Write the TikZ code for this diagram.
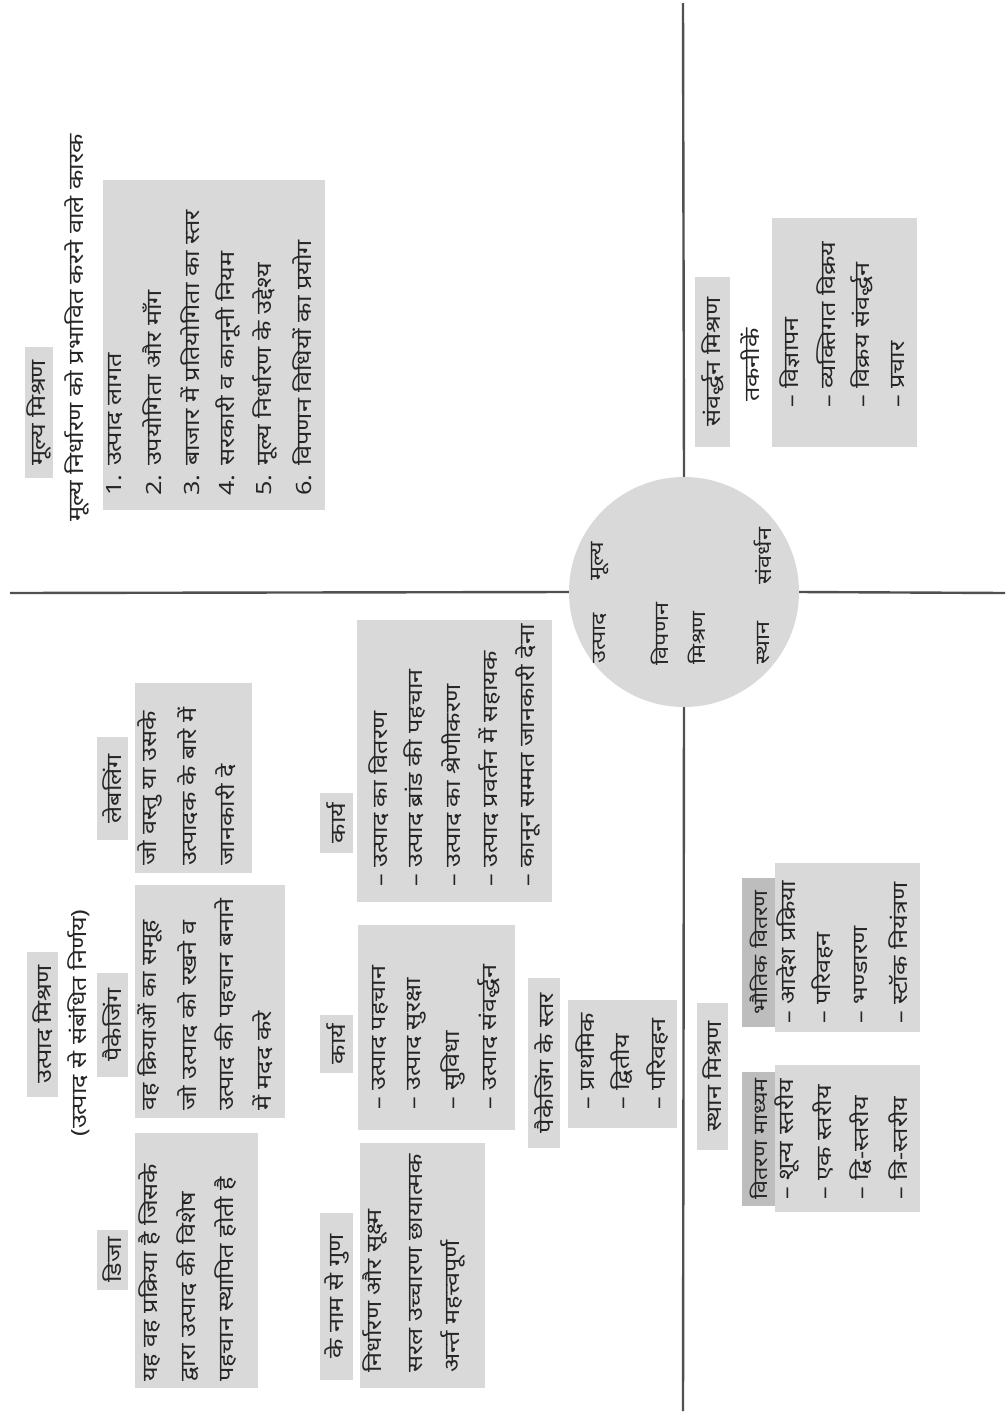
\documentclass[tikz,border=0pt]{standalone}
\usepackage{fontspec}
\newfontfamily\hindi[Script=Devanagari, FakeStretch=1.2]{Noto Sans}
\definecolor{boxgray}{HTML}{D9D9D9}
\definecolor{hdrgray}{HTML}{BDBDBD}
\definecolor{linegray}{HTML}{505050}
\definecolor{ink}{HTML}{262626}

\tikzset{
  txt/.style={rotate=90, inner sep=0pt, font=\hindi\fontsize{21}{24}\selectfont, text=ink},
  smalltxt/.style={font=\hindi\fontsize{19.5}{23}\selectfont},
  ctxt/.style={txt, font=\hindi\fontsize{19.5}{23}\selectfont},
  item/.style={txt, anchor=west},
  panel/.style={fill=boxgray, draw=none},
  divider/.style={draw=linegray, line width=2.4pt},
}

% tag box: [extra style] name, x1, y1, x2, y2, text  (text runs bottom to top)
\newcommand\tagbox[7][fill=boxgray]{%
  \node[txt, #1, minimum width={#6-#4}, minimum height={#5-#3}]
    (#2) at ({(#3+#5)/2},{(#4+#6)/2}) {#7};}

\begin{document}
\begin{tikzpicture}[x=1pt,y=-1pt]
\useasboundingbox[fill=white] (0,0) rectangle (1005,1414);

% ---------- centre circle and quadrant dividers ----------
\node[circle, fill=boxgray, minimum size=230, inner sep=0] (mix) at (684,592) {};
\coordinate (topend) at (683,3);
\coordinate (botend) at (683,1411);
\coordinate (leftend) at (10,593);
\coordinate (rightend) at (1005,593);
\draw[divider] (topend) -- (mix.north);
\draw[divider] (mix.south) -- (botend);
\draw[divider] (leftend) -- (mix.west);
\draw[divider] (mix.east) -- (rightend);

\node[ctxt] (c-utp) at (600,638) {उत्पाद};
\node[ctxt] (c-mul) at (600,561) {मूल्य};
\node[ctxt] (c-vip) at (660,634) {विपणन};
\node[ctxt] (c-mis) at (697,638) {मिश्रण};
\node[ctxt] (c-sth) at (763,643) {स्थान};
\node[ctxt] (c-sam) at (763,556) {संवर्धन};

% ---------- price mix ----------
\tagbox{price}{25}{347}{53}{478}{मूल्य मिश्रण}
\node[txt] (price-sub) at (77,328) {मूल्य निर्धारण को प्रभावित करने वाले कारक};
\path[panel] (103,180) rectangle (325,510);
\foreach \x/\t [count=\i] in {
  115/{1. उत्पाद लागत},
  152/{2. उपयोगिता और माँग},
  190/{3. बाजार में प्रतियोगिता का स्तर},
  228/{4. सरकारी व कानूनी नियम},
  265/{5. मूल्य निर्धारण के उद्देश्य},
  302/{6. विपणन विधियों का प्रयोग}}
  \node[item] (price-\i) at (\x,496) {\t};

% ---------- promotion mix ----------
\tagbox{promo}{695}{277}{730}{447}{संवर्द्धन मिश्रण}
\node[txt] (promo-sub) at (750,365) {तकनीकें};
\path[panel] (772,218) rectangle (917,447);
\foreach \x/\t [count=\i] in {
  790/{– विज्ञापन},
  826/{– व्यक्तिगत विक्रय},
  862/{– विक्रय संवर्द्धन},
  898/{– प्रचार}}
  \node[item] (promo-\i) at (\x,408) {\t};

% ---------- place mix ----------
\tagbox{place}{697}{1003}{728}{1150}{स्थान मिश्रण}
\path[panel] (775,1065) rectangle (920,1212);
\tagbox[fill=hdrgray, smalltxt]{channel}{742}{1072}{775}{1206}{वितरण माध्यम}
\foreach \x/\t [count=\i] in {
  787/{– शून्य स्तरीय},
  823/{– एक स्तरीय},
  861/{– द्वि-स्तरीय},
  898/{– त्रि-स्तरीय}}
  \node[item] (channel-\i) at (\x,1200) {\t};
\path[panel] (775,863) rectangle (920,1032);
\tagbox[fill=hdrgray, smalltxt]{physical}{742}{878}{775}{1027}{भौतिक वितरण}
\foreach \x/\t [count=\i] in {
  787/{– आदेश प्रक्रिया},
  823/{– परिवहन},
  861/{– भण्डारण},
  898/{– स्टॉक नियंत्रण}}
  \node[item] (physical-\i) at (\x,1024) {\t};

% ---------- product mix ----------
\tagbox{product}{27}{952}{58}{1097}{उत्पाद मिश्रण}
\node[txt] (product-sub) at (79,1023) {(उत्पाद से संबंधित निर्णय)};

% design
\tagbox{design}{97}{1230}{128}{1290}{डिजा}
\path[panel] (135,1133) rectangle (258,1388);
\foreach \x/\t [count=\i] in {
  150/{यह वह प्रक्रिया है जिसके},
  188/{द्वारा उत्पाद की विशेष},
  226/{पहचान स्थापित होती है}}
  \node[item] (design-\i) at (\x,1382) {\t};

% packaging
\tagbox{pack}{97}{973}{128}{1077}{पैकेजिंग}
\path[panel] (135,885) rectangle (285,1118);
\foreach \x/\t [count=\i] in {
  150/{वह क्रियाओं का समूह},
  188/{जो उत्पाद को रखने व},
  226/{उत्पाद की पहचान बनाने},
  263/{में मदद करे}}
  \node[item] (pack-\i) at (\x,1111) {\t};

% labelling
\tagbox{label}{97}{737}{128}{840}{लेबलिंग}
\path[panel] (135,683) rectangle (252,873);
\foreach \x/\t [count=\i] in {
  150/{जो वस्तु या उसके},
  188/{उत्पादक के बारे में},
  226/{जानकारी दे}}
  \node[item] (label-\i) at (\x,866) {\t};

% brand name qualities
\tagbox{brand}{320}{1213}{353}{1380}{के नाम से गुण}
\path[panel] (360,1143) rectangle (485,1388);
\foreach \x/\t [count=\i] in {
  375/{निर्धारण और सूक्ष्म},
  416/{सरल उच्चारण छायात्मक},
  453/{अर्न्त महत्त्वपूर्ण}}
  \node[item] (brand-\i) at (\x,1373) {\t};

% packaging functions
\tagbox{packfn}{320}{1015}{353}{1073}{कार्य}
\path[panel] (358,925) rectangle (515,1130);
\foreach \x/\t [count=\i] in {
  380/{– उत्पाद पहचान},
  417/{– उत्पाद सुरक्षा},
  453/{– सुविधा},
  489/{– उत्पाद संवर्द्धन}}
  \node[item] (packfn-\i) at (\x,1110) {\t};

% packaging levels
\tagbox{levels}{528}{978}{560}{1148}{पैकेजिंग के स्तर}
\path[panel] (568,1000) rectangle (677,1128);
\foreach \x/\t [count=\i] in {
  585/{– प्राथमिक},
  622/{– द्वितीय},
  658/{– परिवहन}}
  \node[item] (levels-\i) at (\x,1110) {\t};

% labelling functions
\tagbox{labelfn}{320}{793}{353}{853}{कार्य}
\path[panel] (357,620) rectangle (552,902);
\foreach \x/\t [count=\i] in {
  379/{– उत्पाद का वितरण},
  415/{– उत्पाद ब्रांड की पहचान},
  452/{– उत्पाद का श्रेणीकरण},
  490/{– उत्पाद प्रवर्तन में सहायक},
  528/{– कानून सम्मत जानकारी देना}}
  \node[item] (labelfn-\i) at (\x,887) {\t};

\end{tikzpicture}
\end{document}
